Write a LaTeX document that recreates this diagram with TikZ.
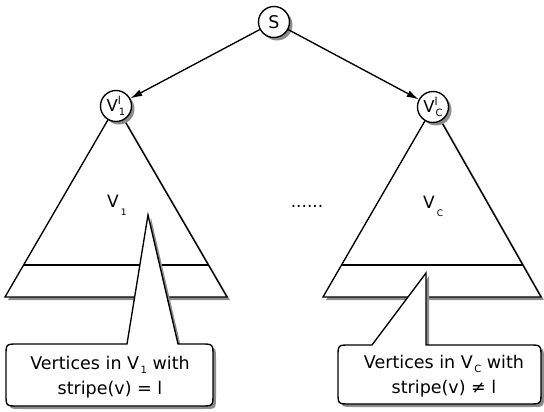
\documentclass[tikz,border=0pt]{standalone}
\usepackage{fontspec}
\setmainfont{DejaVu Sans}
\usetikzlibrary{arrows.meta,shadows,calc}

% small indices: in callout text, under the triangle labels, and inside the vertex circles
\newcommand\calsub[1]{\kern1.5pt\raisebox{-4pt}{\fontsize{10}{10}\selectfont #1}}
\newcommand\trisub[1]{\kern2pt\raisebox{-8pt}{\fontsize{9}{9}\selectfont #1}}
\newcommand\vtxidx[2]{\rlap{\raisebox{6.5pt}{\fontsize{11}{11}\selectfont #1}}\kern1pt\raisebox{-4pt}{\fontsize{10}{10}\selectfont #2}}

\begin{document}
\begin{tikzpicture}[x=1pt,y=-1pt,
  shade/.style={drop shadow={shadow xshift=3pt,shadow yshift=-3pt,fill=black!45,opacity=1}},
  outline/.style={draw=black,line width=1.35pt,fill=white,shade},
  vertex/.style={circle,outline,minimum size=31pt,inner sep=0pt},
  edge/.style={line width=1.35pt,-{Latex[length=12pt,width=7pt]}},
  stripe/.style={line width=1.35pt},
  lbl/.style={inner sep=0pt,font=\fontsize{17}{17}\selectfont},
  bubble/.style={align=center,inner sep=0pt,font=\fontsize{17.5}{25}\selectfont}]
\useasboundingbox (0,0) rectangle (544,412);

% subtree under the first child
\coordinate (la) at (116,106);
\coordinate (ll) at (5,297);
\coordinate (lr) at (227,297);
\draw[outline] (la) -- (ll) -- (lr) -- cycle;
\draw[stripe] ($(la)!0.8325!(ll)$) -- ($(la)!0.8325!(lr)$);

% subtree under the last child
\coordinate (ra) at (433,107);
\coordinate (rl) at (323,297);
\coordinate (rr) at (541,297);
\draw[outline] (ra) -- (rl) -- (rr) -- cycle;
\draw[stripe] ($(ra)!0.8316!(rl)$) -- ($(ra)!0.8316!(rr)$);

\node[lbl,anchor=base west] (V1) at (107,207) {V\trisub{1}};
\node[lbl,anchor=base west] (VC) at (423,208) {V\trisub{C}};
\node[lbl] (dots) at (307,206) {......};

% callouts
\draw[outline] (178,344) -- (201,344) .. controls (213,344) .. (213,356)
  -- (213,394) .. controls (213,406) .. (201,406) -- (18,406)
  .. controls (6,406) .. (6,394) -- (6,356) .. controls (6,344) .. (18,344)
  -- (127,344) -- (148,215) -- cycle;
\draw[outline] (426,345) -- (529,345) .. controls (541,345) .. (541,357)
  -- (541,392) .. controls (541,404) .. (529,404) -- (350,404)
  .. controls (338,404) .. (338,392) -- (338,357) .. controls (338,345) .. (350,345)
  -- (372,345) -- (426,273) -- cycle;

\node[bubble] (t1) at (110,377) {Vertices in V\calsub{1} with\\stripe(v) = l};
\node[bubble] (t2) at (444,376) {Vertices in V\calsub{C} with\\stripe(v) ≠ l};

% root and children
\node[vertex,font=\fontsize{17.5}{17.5}\selectfont] (S) at (274,22) {S};
\node[vertex,font=\fontsize{16.5}{16.5}\selectfont] (v1) at (116,106) {V\vtxidx{l}{1}};
\node[vertex,font=\fontsize{16.5}{16.5}\selectfont] (vc) at (433,107) {V\vtxidx{l}{C}};

\draw[edge] (S) -- (v1);
\draw[edge] (S) -- (vc);
\end{tikzpicture}
\end{document}
